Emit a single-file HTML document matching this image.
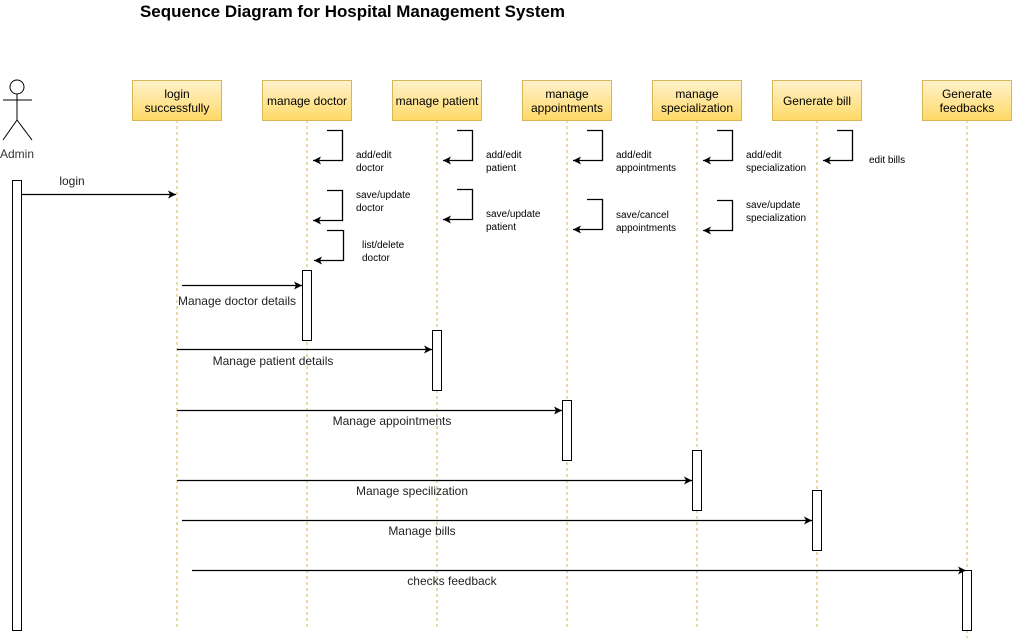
<!DOCTYPE html>
<html><head><meta charset="utf-8"><style>
html,body{margin:0;padding:0;background:#fff;}
svg{display:block;font-family:"Liberation Sans",Arial,sans-serif;}
</style></head><body>
<svg width="1013" height="641" viewBox="0 0 1013 641" xmlns="http://www.w3.org/2000/svg">
<defs>
<linearGradient id="g" x1="0" y1="0" x2="0" y2="1"><stop offset="0" stop-color="#fff2cc"/><stop offset="1" stop-color="#ffd966"/></linearGradient>
<marker id="a" markerWidth="10" markerHeight="10" refX="9" refY="5" orient="auto" markerUnits="userSpaceOnUse"><path d="M1,1 L9,5 L1,9 L3,5 Z" fill="#000"/></marker>
</defs>
<text x="140" y="17" font-size="17" font-weight="bold" fill="#000" textLength="425" lengthAdjust="spacingAndGlyphs">Sequence Diagram for Hospital Management System</text>

<!-- actor -->
<g stroke="#000" stroke-width="1" fill="none">
<circle cx="17" cy="87" r="7" fill="#fff"/>
<line x1="17" y1="94" x2="17" y2="120"/>
<line x1="3" y1="100" x2="32" y2="100"/>
<line x1="17" y1="120" x2="3" y2="140"/>
<line x1="17" y1="120" x2="32" y2="140"/>
</g>
<text x="17" y="158" font-size="12" text-anchor="middle" fill="#333">Admin</text>

<!-- lifelines -->
<g stroke="#d6b656" stroke-width="1" stroke-dasharray="3,3">
<line x1="177" y1="120" x2="177" y2="628"/>
<line x1="307" y1="120" x2="307" y2="628"/>
<line x1="437" y1="120" x2="437" y2="628"/>
<line x1="567" y1="120" x2="567" y2="628"/>
<line x1="697" y1="120" x2="697" y2="628"/>
<line x1="817" y1="120" x2="817" y2="628"/>
<line x1="967" y1="120" x2="967" y2="638"/>
</g>

<!-- boxes -->
<g stroke="#d6b656" stroke-width="1" fill="url(#g)">
<rect x="132.5" y="80.5" width="89" height="40"/>
<rect x="262.5" y="80.5" width="89" height="40"/>
<rect x="392.5" y="80.5" width="89" height="40"/>
<rect x="522.5" y="80.5" width="89" height="40"/>
<rect x="652.5" y="80.5" width="89" height="40"/>
<rect x="772.5" y="80.5" width="89" height="40"/>
<rect x="922.5" y="80.5" width="89" height="40"/>
</g>
<g font-size="12" text-anchor="middle" fill="#000">
<text x="177" y="98">login</text><text x="177" y="112">successfully</text>
<text x="307" y="105">manage doctor</text>
<text x="437" y="105">manage patient</text>
<text x="567" y="98">manage</text><text x="567" y="112">appointments</text>
<text x="697" y="98">manage</text><text x="697" y="112">specialization</text>
<text x="817" y="105">Generate bill</text>
<text x="967" y="98">Generate</text><text x="967" y="112">feedbacks</text>
</g>

<!-- activations -->
<g stroke="#000" stroke-width="1" fill="#fff">
<rect x="12.5" y="180.5" width="9" height="450"/>
<rect x="302.5" y="270.5" width="9" height="70"/>
<rect x="432.5" y="330.5" width="9" height="60"/>
<rect x="562.5" y="400.5" width="9" height="60"/>
<rect x="692.5" y="450.5" width="9" height="60"/>
<rect x="812.5" y="490.5" width="9" height="60"/>
<rect x="962.5" y="570.5" width="9" height="60"/>
</g>

<!-- self loops -->
<g stroke="#000" stroke-width="1.3" fill="none" marker-end="url(#a)">
<path d="M327,130.5 H342.5 V160.5 H313"/>
<path d="M327,190.5 H342.5 V220.5 H313"/>
<path d="M327,230.5 H343.5 V260.5 H314"/>
<path d="M457,130.5 H472.5 V160.5 H443"/>
<path d="M457,189.5 H472.5 V219.5 H443"/>
<path d="M587,130.5 H602.5 V160.5 H573"/>
<path d="M587,199.5 H602.5 V229.5 H573"/>
<path d="M717,130.5 H732.5 V160.5 H703"/>
<path d="M717,200.5 H732.5 V230.5 H703"/>
<path d="M837,130.5 H852.5 V160.5 H823"/>
</g>
<g font-size="10" fill="#000">
<text x="356" y="158">add/edit</text><text x="356" y="171">doctor</text>
<text x="356" y="198">save/update</text><text x="356" y="211">doctor</text>
<text x="362" y="248">list/delete</text><text x="362" y="261">doctor</text>
<text x="486" y="158">add/edit</text><text x="486" y="171">patient</text>
<text x="486" y="217">save/update</text><text x="486" y="230">patient</text>
<text x="616" y="158">add/edit</text><text x="616" y="171">appointments</text>
<text x="616" y="218">save/cancel</text><text x="616" y="231">appointments</text>
<text x="746" y="158">add/edit</text><text x="746" y="171">specialization</text>
<text x="746" y="208">save/update</text><text x="746" y="221">specialization</text>
<text x="869" y="163">edit bills</text>
</g>

<!-- messages -->
<g stroke="#000" stroke-width="1.2" fill="none" marker-end="url(#a)">
<line x1="22" y1="194.5" x2="176" y2="194.5"/>
<line x1="182" y1="285.5" x2="302" y2="285.5"/>
<line x1="177" y1="349.5" x2="432" y2="349.5"/>
<line x1="177" y1="410.5" x2="562" y2="410.5"/>
<line x1="177" y1="480.5" x2="692" y2="480.5"/>
<line x1="182" y1="520.5" x2="812" y2="520.5"/>
<line x1="192" y1="570.5" x2="966" y2="570.5"/>
</g>
<g font-size="12" fill="#222">
<text x="72" y="185" text-anchor="middle">login</text>
<text x="237" y="305" text-anchor="middle">Manage doctor details</text>
<text x="273" y="365" text-anchor="middle">Manage patient details</text>
<text x="392" y="425" text-anchor="middle">Manage appointments</text>
<text x="412" y="495" text-anchor="middle">Manage specilization</text>
<text x="422" y="535" text-anchor="middle">Manage bills</text>
<text x="452" y="585" text-anchor="middle">checks feedback</text>
</g>
</svg>
</body></html>
